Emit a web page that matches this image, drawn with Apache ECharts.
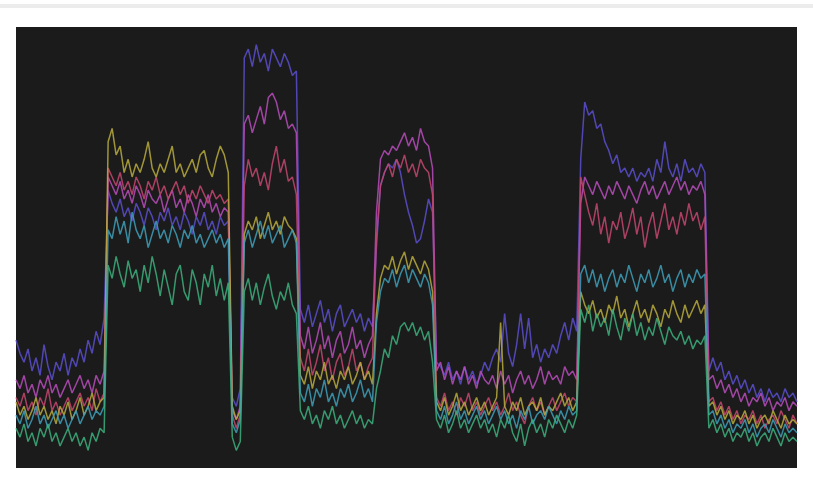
<!DOCTYPE html>
<html>
<head>
<meta charset="utf-8">
<script src="https://cdn.jsdelivr.net/npm/echarts@6/dist/echarts.min.js"></script>
<style>html,body{margin:0;padding:0;background:#fff;}#c{width:813px;height:487px;}</style>
</head>
<body>
<div id="c"></div>
<script>
const seriesNames = ['blue', 'magenta', 'red', 'yellow', 'cyan', 'green'];
const blue = [29,26,24,27,22,25,21,28,23,20,24,22,26,21,25,23,27,24,29,26,31,28,34,
63,60,58,61,57,59,56,60,58,55,59,57,54,58,56,59,55,57,54,58,56,53,57,55,58,54,56,53,57,55,56,
16,14,18,
93,95,91,96,92,94,90,95,93,91,94,92,89,90,
36,33,37,32,35,38,33,36,31,35,37,32,34,36,33,35,31,34,32,
50,64,67,69,68,70,67,62,58,55,51,52,56,61,58,
24,23,21,24,20,22,19,23,20,22,19,21,24,22,25,27,24,35,26,23,28,35,27,34,25,28,24,27,25,28,26,30,33,29,34,31,
70,83,80,81,77,78,74,72,69,71,67,68,66,68,65,67,66,68,65,70,67,74,68,66,69,65,70,67,68,66,69,67,
22,25,22,24,20,22,19,21,18,20,17,19,16,18,15,18,16,17,15,18,16,17,15];
const magenta = [20,18,21,17,19,16,20,18,21,17,19,16,18,20,17,19,21,18,20,17,21,19,22,
66,64,62,65,61,63,60,64,62,59,63,61,60,62,58,61,63,59,61,58,62,60,57,61,59,62,58,60,57,59,58,
13,11,14,
78,80,76,79,82,78,84,85,83,79,81,77,78,76,
30,27,32,26,29,33,27,30,25,29,31,26,28,32,27,29,25,28,30,
58,70,72,71,73,72,74,76,73,75,72,77,74,73,68,
22,24,20,23,19,22,20,23,19,21,18,22,20,19,21,18,22,19,21,17,20,22,19,21,18,20,23,19,22,20,21,19,23,21,22,20,
60,66,64,62,65,63,61,64,62,65,63,61,64,62,60,63,65,62,64,61,63,65,62,64,66,63,65,62,64,63,65,62,
20,21,18,20,17,19,16,18,15,17,14,16,15,17,14,16,13,15,14,16,13,15,14];
const red = [16,14,17,13,15,12,16,14,18,13,15,12,14,16,13,15,17,14,16,13,18,15,17,
68,66,64,67,63,65,62,66,64,61,65,63,66,62,64,61,63,65,62,64,60,63,61,64,62,60,63,61,62,60,61,
12,9,12,
64,70,66,68,64,67,63,69,73,67,70,65,66,62,
25,22,27,21,24,28,22,25,20,24,26,21,23,27,22,24,20,23,25,
52,64,67,69,66,70,68,71,67,69,66,70,68,67,62,
16,14,17,13,15,12,16,14,17,13,15,12,14,16,13,15,12,14,17,13,15,12,10,14,16,13,15,12,14,16,13,15,17,14,16,15,
66,62,58,55,60,53,57,51,56,54,58,52,55,59,53,57,50,55,58,52,56,60,54,57,53,58,55,60,56,58,54,57,
15,16,13,15,12,14,11,13,10,12,11,13,10,12,9,11,12,10,13,11,9,12,10];
const yellow = [15,12,14,11,13,16,12,14,11,13,10,14,12,15,11,13,16,12,14,17,13,15,16,
74,77,71,73,67,70,66,69,67,70,74,68,66,69,67,70,73,67,69,66,68,70,67,71,72,68,66,70,73,71,67,
14,11,13,
53,56,54,57,52,55,58,54,56,53,57,55,54,52,
21,19,23,18,22,20,24,19,21,18,22,20,23,19,21,24,20,22,19,
35,43,46,45,48,44,47,49,45,48,46,44,47,45,40,
15,13,16,12,14,17,13,15,12,14,16,13,15,12,14,16,33,14,12,15,13,16,12,14,15,13,16,12,14,13,15,17,14,16,13,15,
40,37,35,38,34,36,33,37,35,39,34,36,32,35,38,34,36,33,37,35,32,36,34,38,35,33,37,34,36,38,35,37,
14,15,12,14,11,13,10,12,11,13,10,12,9,11,12,10,13,11,9,12,10,11,10];
const cyan = [12,10,13,9,11,14,10,12,9,11,13,10,12,9,11,13,10,12,14,11,13,12,14,
54,52,57,53,56,51,58,54,52,55,50,53,56,52,54,51,55,53,50,54,52,55,51,53,50,52,54,51,53,50,52,
10,8,11,
51,54,50,53,56,52,55,51,53,55,50,52,54,51,
17,15,19,14,18,16,20,15,17,14,18,16,19,15,17,20,16,18,15,
33,40,43,42,45,41,44,46,42,45,43,41,44,42,37,
13,11,14,10,12,15,11,13,10,12,14,11,13,10,12,14,11,13,10,12,9,13,11,14,10,12,13,11,14,12,10,13,11,14,12,13,
44,46,42,45,41,44,40,43,45,41,44,42,46,43,40,44,42,45,41,43,46,42,44,40,43,45,41,44,42,45,43,44,
12,13,10,12,9,11,8,10,9,11,8,10,7,9,10,8,11,9,7,10,8,9,8];
const green = [9,7,10,6,8,5,9,7,10,6,8,5,7,9,6,8,5,7,4,8,6,9,8,
46,43,48,44,41,47,43,45,40,46,42,48,44,39,45,41,37,44,46,40,38,45,42,37,44,41,46,39,43,38,42,
7,4,6,
40,43,38,42,37,41,44,39,36,40,38,42,37,35,
13,11,14,10,12,9,13,11,14,10,12,9,11,13,10,12,9,11,10,
18,22,27,25,30,28,32,33,31,33,30,32,29,31,24,
11,9,12,8,10,13,9,11,8,10,12,9,11,8,10,7,11,9,12,8,6,10,5,9,11,8,10,7,11,9,12,10,8,11,9,12,
36,33,37,31,35,32,34,30,36,32,29,34,31,35,30,33,29,32,30,34,31,28,32,30,29,31,28,30,27,29,28,30,
9,11,8,10,7,9,6,8,7,9,6,8,5,7,8,6,9,7,5,8,6,7,6];
const categories = blue.map((_, i) => String(i));
const colors = ['#5a4fcf', '#b84cbc', '#c4476f', '#b9ab3c', '#3d9fb8', '#3bb07c'];
const values = [blue, magenta, red, yellow, cyan, green];

const chart = echarts.init(document.getElementById('c'), null, {renderer: 'canvas'});
chart.setOption({
  animation: false,
  backgroundColor: '#ffffff',
  graphic: [{type: 'rect', left: 0, top: 4, shape: {width: 813, height: 4}, style: {fill: '#ececec'}, silent: true}],
  grid: {left: 16, right: 16, top: 27, bottom: 19, show: true, backgroundColor: '#1b1b1b', borderWidth: 0},
  xAxis: {type: 'category', data: categories, boundaryGap: false, show: false},
  yAxis: {type: 'value', min: 0, max: 100, show: false},
  series: values.map((d, k) => ({
    name: seriesNames[k],
    type: 'line',
    data: d,
    symbol: 'none',
    smooth: false,
    lineStyle: {width: 1.5, color: colors[k], opacity: 0.85}
  }))
});
</script>
</body>
</html>
